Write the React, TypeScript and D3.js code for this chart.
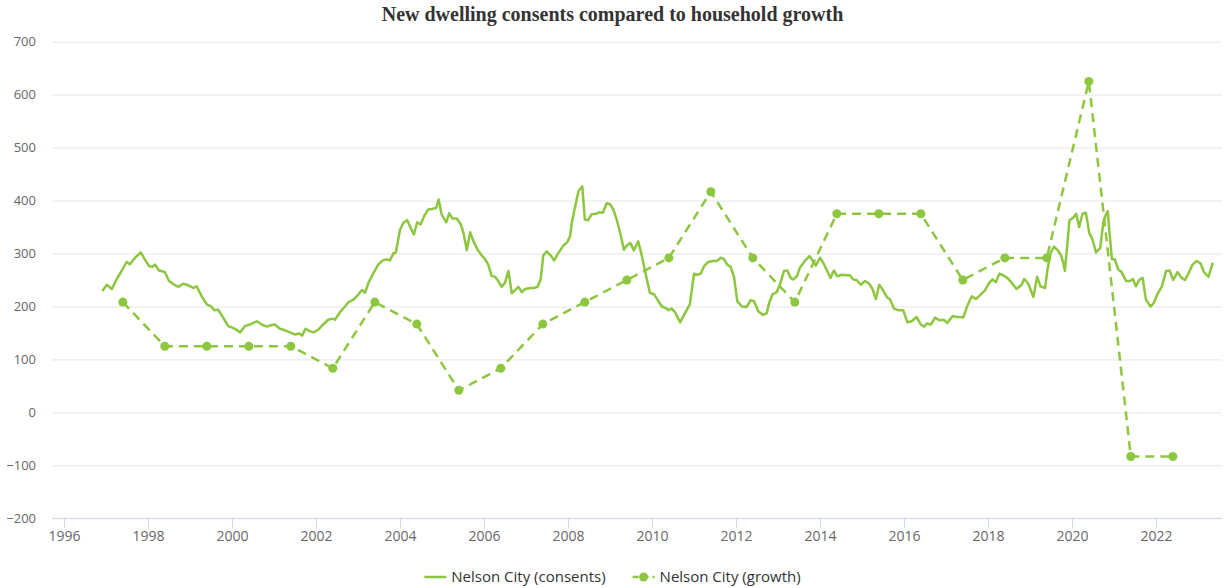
import { useRef, useEffect } from "react"
import * as d3 from "d3"

const chartTitle = "New dwelling consents compared to household growth"
const seriesNames = ["Nelson City (consents)", "Nelson City (growth)"]

// consents: decimal year + annual value
const consentDates = [
  1996.91, 1997.02, 1997.14, 1997.25, 1997.37, 1997.49, 1997.57, 1997.69, 1997.83, 1997.93,
  1998.03, 1998.10, 1998.17, 1998.26, 1998.40, 1998.50, 1998.63, 1998.72, 1998.84, 1998.96,
  1999.08, 1999.16, 1999.28, 1999.40, 1999.50, 1999.58, 1999.67, 1999.79, 1999.91, 2000.01,
  2000.11, 2000.19, 2000.31, 2000.43, 2000.59, 2000.71, 2000.83, 2000.90, 2001.02, 2001.14,
  2001.26, 2001.38, 2001.50, 2001.60, 2001.67, 2001.75, 2001.86, 2001.94, 2002.05, 2002.17,
  2002.29, 2002.39, 2002.45, 2002.57, 2002.69, 2002.77, 2002.89, 2003.01, 2003.09, 2003.17,
  2003.25, 2003.36, 2003.48, 2003.59, 2003.68, 2003.76, 2003.84, 2003.90, 2004.00, 2004.08,
  2004.17, 2004.25, 2004.33, 2004.41, 2004.49, 2004.57, 2004.67, 2004.75, 2004.86, 2004.92,
  2004.99, 2005.10, 2005.17, 2005.25, 2005.35, 2005.45, 2005.52, 2005.59, 2005.67, 2005.75,
  2005.84, 2005.95, 2006.02, 2006.10, 2006.18, 2006.26, 2006.34, 2006.42, 2006.50, 2006.58,
  2006.66, 2006.74, 2006.82, 2006.90, 2006.98, 2007.10, 2007.19, 2007.27, 2007.35, 2007.41,
  2007.49, 2007.59, 2007.67, 2007.77, 2007.89, 2007.98, 2008.05, 2008.09, 2008.17, 2008.25,
  2008.34, 2008.40, 2008.48, 2008.56, 2008.67, 2008.75, 2008.83, 2008.92, 2009.00, 2009.08,
  2009.17, 2009.26, 2009.33, 2009.40, 2009.48, 2009.57, 2009.67, 2009.76, 2009.86, 2009.95,
  2010.05, 2010.13, 2010.23, 2010.33, 2010.39, 2010.47, 2010.55, 2010.67, 2010.79, 2010.90,
  2011.00, 2011.08, 2011.16, 2011.24, 2011.34, 2011.45, 2011.54, 2011.64, 2011.71, 2011.79,
  2011.87, 2011.95, 2012.03, 2012.14, 2012.25, 2012.35, 2012.43, 2012.53, 2012.64, 2012.73,
  2012.79, 2012.87, 2012.97, 2013.06, 2013.14, 2013.22, 2013.30, 2013.36, 2013.45, 2013.52,
  2013.64, 2013.75, 2013.83, 2013.90, 2014.00, 2014.08, 2014.17, 2014.25, 2014.33, 2014.41,
  2014.52, 2014.64, 2014.71, 2014.79, 2014.87, 2014.97, 2015.07, 2015.17, 2015.25, 2015.33,
  2015.41, 2015.49, 2015.59, 2015.67, 2015.76, 2015.86, 2015.98, 2016.08, 2016.18, 2016.30,
  2016.40, 2016.48, 2016.55, 2016.64, 2016.74, 2016.84, 2016.94, 2017.03, 2017.16, 2017.25,
  2017.35, 2017.41, 2017.51, 2017.61, 2017.71, 2017.83, 2017.93, 2018.03, 2018.11, 2018.19,
  2018.27, 2018.36, 2018.46, 2018.56, 2018.68, 2018.80, 2018.86, 2018.96, 2019.08, 2019.17,
  2019.25, 2019.36, 2019.41, 2019.49, 2019.57, 2019.65, 2019.73, 2019.78, 2019.83, 2019.94,
  2020.02, 2020.10, 2020.17, 2020.25, 2020.33, 2020.41, 2020.49, 2020.57, 2020.67, 2020.75,
  2020.81, 2020.85, 2020.89, 2020.95, 2021.02, 2021.10, 2021.18, 2021.29, 2021.38, 2021.45,
  2021.52, 2021.60, 2021.68, 2021.76, 2021.87, 2021.95, 2022.03, 2022.14, 2022.24, 2022.32,
  2022.41, 2022.51, 2022.61, 2022.69, 2022.77, 2022.87, 2022.97, 2023.06, 2023.14, 2023.25,
  2023.35,
]
const consentValues = [
  229, 241, 233, 251, 267, 284, 280, 292, 302, 288,
  276, 275, 279, 268, 265, 248, 241, 237, 243, 240,
  235, 238, 219, 204, 200, 193, 194, 179, 163, 160,
  156, 151, 163, 166, 172, 166, 162, 164, 166, 158,
  155, 151, 147, 149, 145, 158, 153, 151, 156, 166,
  175, 177, 175, 189, 200, 208, 213, 223, 231, 226,
  245, 262, 279, 287, 289, 287, 300, 302, 345, 358,
  363, 349, 336, 359, 355, 370, 383, 384, 386, 402,
  374, 359, 376, 366, 366, 355, 336, 306, 340, 323,
  308, 296, 290, 279, 258, 256, 248, 237, 245, 267,
  225, 231, 237, 227, 233, 235, 235, 237, 251, 296,
  304, 296, 287, 301, 315, 321, 333, 358, 389, 418,
  427, 364, 363, 374, 375, 378, 377, 395, 393, 383,
  361, 333, 307, 315, 320, 306, 323, 295, 257, 226,
  223, 213, 200, 197, 193, 196, 189, 170, 188, 204,
  262, 260, 262, 276, 284, 286, 286, 292, 290, 279,
  275, 257, 210, 200, 199, 212, 210, 191, 184, 187,
  207, 223, 227, 245, 267, 268, 254, 251, 257, 273,
  286, 295, 286, 277, 292, 282, 267, 254, 268, 257,
  260, 259, 259, 251, 250, 241, 248, 243, 233, 214,
  241, 232, 218, 213, 196, 193, 193, 170, 172, 180,
  166, 162, 168, 166, 179, 174, 175, 169, 182, 180,
  180, 179, 202, 219, 214, 223, 231, 245, 251, 246,
  262, 259, 254, 245, 233, 241, 252, 243, 218, 256,
  238, 235, 267, 301, 313, 307, 298, 286, 267, 363,
  367, 375, 350, 375, 377, 339, 326, 302, 310, 361,
  374, 380, 342, 289, 289, 270, 265, 248, 248, 252,
  238, 250, 254, 213, 200, 207, 223, 238, 267, 268,
  250, 265, 254, 250, 262, 279, 286, 281, 265, 256,
  283,
]

// household growth, one point a year
const growthDates = [
  1997.4, 1998.4, 1999.4, 2000.4, 2001.4, 2002.4, 2003.4, 2004.4, 2005.4, 2006.4,
  2007.4, 2008.4, 2009.4, 2010.4, 2011.4, 2012.4, 2013.4, 2014.4, 2015.4, 2016.4,
  2017.4, 2018.4, 2019.4, 2020.4, 2021.4, 2022.4,
]
const growthValues = [
  208.3, 125, 125, 125, 125, 83.3, 208.3, 166.7, 41.7, 83.3,
  166.7, 208.3, 250, 291.7, 416.7, 291.7, 208.3, 375, 375, 375,
  250, 291.7, 291.7, 625, -83.3, -83.3,
]

const yTicks = [-200, -100, 0, 100, 200, 300, 400, 500, 600, 700]
const xTicks = [1996, 1998, 2000, 2002, 2004, 2006, 2008, 2010, 2012, 2014, 2016, 2018, 2020, 2022]

export default function App() {
  const svgRef = useRef<SVGSVGElement>(null)

  function drawChart() {
    const width = 1225
    const height = 588
    const plotLeft = 52
    const plotRight = 1222
    const plotTop = 41.7
    const plotBottom = 518.3
    const green = "#8dc63f"
    const fontFamily = "'Open Sans', 'DejaVu Sans', sans-serif"

    const svg = d3.select(svgRef.current).attr("width", width).attr("height", height)
    svg.selectAll("*").remove()

    const x = d3.scaleLinear().domain([1995.714, 2023.571]).range([plotLeft, plotRight])
    const y = d3.scaleLinear().domain([-200, 700]).range([plotBottom, plotTop])

    // Title
    svg
      .append("text")
      .text(chartTitle)
      .attr("x", width / 2)
      .attr("y", 21)
      .attr("text-anchor", "middle")
      .style("font-family", "'Liberation Serif', serif")
      .style("font-weight", "bold")
      .style("font-size", "20px")
      .style("fill", "#333")

    // Y axis + grid
    const yAxis = svg
      .append("g")
      .attr("transform", `translate(${plotLeft},0)`)
      .call(
        d3
          .axisLeft(y)
          .tickValues(yTicks)
          .tickSize(-(plotRight - plotLeft))
          .tickPadding(16)
          .tickFormat((d) => d3.format("d")(d as number).replace("-", "\u2212"))
      )
    yAxis.select(".domain").remove()
    yAxis.selectAll("line").attr("stroke", "#e6e6e6")
    yAxis
      .selectAll("text")
      .style("font-family", fontFamily)
      .style("font-size", "13px")
      .style("fill", "#666")

    // X axis
    const xAxis = svg
      .append("g")
      .attr("transform", `translate(0,${plotBottom})`)
      .call(
        d3
          .axisBottom(x)
          .tickValues(xTicks)
          .tickSize(10)
          .tickPadding(3)
          .tickFormat((d) => String(d))
      )
    xAxis.select(".domain").attr("stroke", "#ccd6eb").attr("d", `M${plotLeft},0H${plotRight}`)
    xAxis.selectAll("line").attr("stroke", "#ccd6eb")
    xAxis
      .selectAll("text")
      .style("font-family", fontFamily)
      .style("font-size", "14px")
      .style("fill", "#666")

    // Consents line
    const consentLine = d3
      .line<number>()
      .x((d, i) => x(consentDates[i]))
      .y((d) => y(d))
    svg
      .append("path")
      .datum(consentValues)
      .attr("d", consentLine)
      .attr("fill", "none")
      .attr("stroke", green)
      .attr("stroke-width", 2.5)
      .attr("stroke-linejoin", "round")

    // Growth line
    const growthLine = d3
      .line<number>()
      .x((d, i) => x(growthDates[i]))
      .y((d) => y(d))
    svg
      .append("path")
      .datum(growthValues)
      .attr("d", growthLine)
      .attr("fill", "none")
      .attr("stroke", green)
      .attr("stroke-width", 2.5)
      .attr("stroke-dasharray", "9,6")
    svg
      .append("g")
      .selectAll("circle")
      .data(growthValues)
      .enter()
      .append("circle")
      .attr("cx", (d, i) => x(growthDates[i]))
      .attr("cy", (d) => y(d))
      .attr("r", 4.5)
      .attr("fill", green)

    // Legend
    const legendY = 577
    const legend = svg.append("g")
    let cursor = 0
    seriesNames.forEach((name, i) => {
      const item = legend.append("g").attr("transform", `translate(${cursor},0)`)
      item
        .append("path")
        .attr("d", `M0,${legendY}H22`)
        .attr("stroke", green)
        .attr("stroke-width", 2.5)
        .attr("stroke-dasharray", i === 1 ? "6,4" : null)
      if (i === 1) item.append("circle").attr("cx", 11).attr("cy", legendY).attr("r", 4.5).attr("fill", green)
      const label = item
        .append("text")
        .text(name)
        .attr("x", 27)
        .attr("y", legendY + 5)
        .style("font-family", fontFamily)
        .style("font-size", "15px")
        .style("fill", "#333")
      const w = (label.node() as SVGTextElement).getComputedTextLength()
      cursor += 27 + w + 27
    })
    const legendWidth = cursor - 27
    legend.attr("transform", `translate(${width / 2 - legendWidth / 2},0)`)
  }

  useEffect(() => {
    drawChart()
  }, [svgRef])

  return (
    <div>
      <svg ref={svgRef} style={{ position: "absolute", left: 0, top: 0, background: "#fff" }}></svg>
    </div>
  )
}
